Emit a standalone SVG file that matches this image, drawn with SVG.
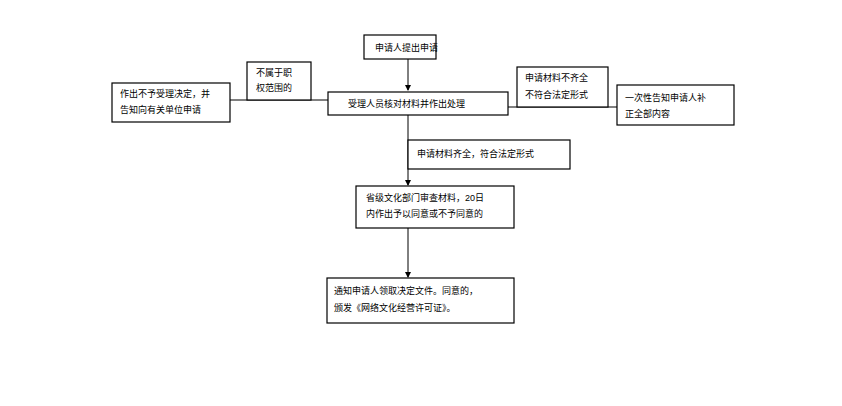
<svg xmlns="http://www.w3.org/2000/svg" width="842" height="406" viewBox="0 0 842 406">
<style>
rect{fill:#fff;stroke:#000;stroke-width:1.2}
text{font-family:"Liberation Sans","Noto Sans CJK SC",sans-serif;font-size:9px;fill:#000}
.c line{stroke:#000;stroke-width:1}
</style>
<defs><marker id="a" markerWidth="6" markerHeight="6" refX="5" refY="3" orient="auto"><path d="M0,0L6,3L0,6z"/></marker></defs>
<rect x="0" y="0" width="842" height="406" style="stroke:none"/>
<g class="c">
<line x1="408" y1="59" x2="408" y2="90" marker-end="url(#a)"/>
<line x1="230" y1="100" x2="328" y2="100"/>
<line x1="508" y1="107" x2="617" y2="107"/>
<line x1="408" y1="115" x2="408" y2="185" stroke="#555" marker-end="url(#a)"/>
<line x1="408" y1="228" x2="408" y2="277" stroke="#555" marker-end="url(#a)"/>
</g>
<g id="n1"><rect x="364" y="35" width="72" height="24"/><text x="375" y="51">申请人提出申请</text></g>
<g id="n2"><rect x="328" y="92" width="180" height="23"/><text x="348" y="107">受理人员核对材料并作出处理</text></g>
<g id="n3"><rect x="247" y="62" width="64" height="38"/><text x="256" y="76">不属于职</text><text x="256" y="91">权范围的</text></g>
<g id="n4"><rect x="112" y="83" width="118" height="39"/><text x="120" y="97">作出不予受理决定，并</text><text x="120" y="113">告知向有关单位申请</text></g>
<g id="n5"><rect x="517" y="67" width="91" height="40"/><text x="525" y="81">申请材料不齐全</text><text x="525" y="98">不符合法定形式</text></g>
<g id="n6"><rect x="617" y="85" width="117" height="40"/><text x="625" y="101">一次性告知申请人补</text><text x="625" y="117">正全部内容</text></g>
<g id="n7"><rect x="408" y="140" width="162" height="29"/><text x="417" y="157">申请材料齐全，符合法定形式</text></g>
<g id="n8"><rect x="356" y="186" width="158" height="42"/><text x="366" y="201">省级文化部门审查材料，20日</text><text x="366" y="217">内作出予以同意或不予同意的</text></g>
<g id="n9"><rect x="327" y="278" width="187" height="45"/><text x="334" y="294">通知申请人领取决定文件。同意的，</text><text x="334" y="311">颁发《网络文化经营许可证》。</text></g>
</svg>
